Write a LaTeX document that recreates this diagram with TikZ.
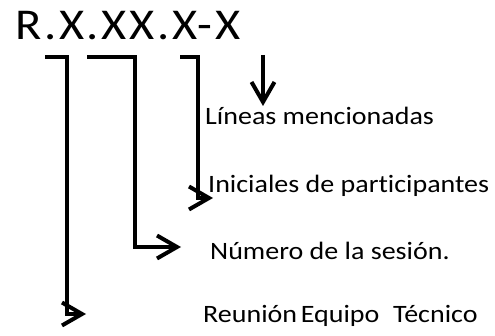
\documentclass[tikz,border=0pt]{standalone}
\usepackage{fontspec}
\setmainfont{Carlito}
\newfontfamily\codefont[FakeStretch=1.1,LetterSpace=6]{Carlito}
\newfontfamily\labelfont[FakeStretch=1.12,Ligatures=NoCommon]{Carlito}
\usetikzlibrary{arrows.meta}

\tikzstyle{codeMain} = [anchor = base west, inner sep = 0pt,
                        font = \codefont\fontsize{44}{50}\selectfont
                        ]
\tikzstyle{partLabel} = [anchor = base west, inner sep = 0pt,
                         text = black,
                         font = \labelfont\fontsize{25}{29}\selectfont
                         ]
\tikzstyle{partLink} = [line width = 4pt,
                        -{Straight Barb[length = 20pt, width = 23pt]}
                        ]

\begin{document}
\begin{tikzpicture}[x = 1pt, y = -1pt]

    \useasboundingbox (0, 0) rectangle (495, 336);

    %%% Code
    \node (code) at (15, 40) [codeMain]{R.X.XX.X-X};

    %%% Parts
    \node (lineas) at (205, 125) [partLabel]{Líneas mencionadas};
    \node (inic) at (208, 193) [partLabel]{Iniciales de participantes};
    \node (num) at (210, 260) [partLabel]{Número de la sesión.};
    \node (reu) at (203, 323) [partLabel]{Reunión\hspace{0.15em}Equipo\hspace{0.55em}Técnico};

    %%% Links
    % R
    \coordinate (rA) at (45, 57);
    \coordinate (rB) at (86, 314);
    \draw[partLink] (rA) -- (67, 57) |- (rB);

    % XX
    \coordinate (xxA) at (87, 57);
    \coordinate (xxB) at (181, 247);
    \draw[partLink] (xxA) -- (135, 57) |- (xxB);

    % X
    \coordinate (xA) at (180, 57);
    \coordinate (xB) at (213, 198);
    \draw[partLink] (xA) -- (198, 57) |- (xB);

    % Lineas
    \coordinate (lA) at (263, 55);
    \draw[partLink] (lA) -- (lA |- 0, 106);

\end{tikzpicture}
\end{document}
